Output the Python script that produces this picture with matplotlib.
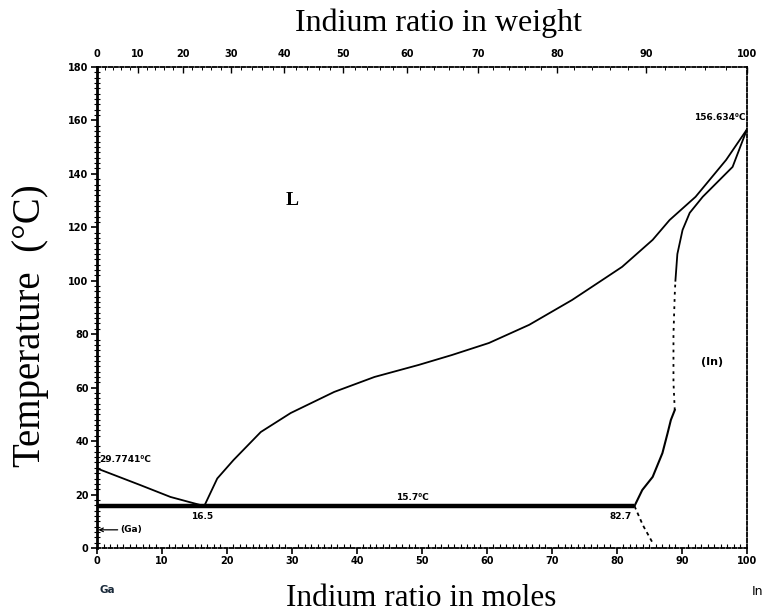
import numpy as np
import matplotlib
matplotlib.use("Agg")
import matplotlib.pyplot as plt
from matplotlib.ticker import MultipleLocator, FixedLocator

# Ga-In binary phase diagram (composition in mol % In, temperature in deg C)
M_GA, M_IN = 69.723, 114.818

ga_liq_x = [0, 6.6, 11.3, 14.8, 16.5]
ga_liq_t = [29.77, 23.6, 19.1, 16.8, 15.7]

liq_x = [16.5, 18.5, 21.0, 25.2, 29.8, 36.5, 42.7, 49.5, 54.6, 60.3, 66.5,
         73.1, 78.2, 80.8, 85.5, 88.1, 92.1, 96.8, 100]
liq_t = [15.7, 26.0, 32.9, 43.4, 50.5, 58.4, 64.0, 68.5, 72.2, 76.7, 83.5,
         92.8, 101.0, 105.2, 115.3, 122.7, 131.4, 145.2, 156.6]

sol_lo_x = [82.7, 83.9, 85.5, 87.0, 87.8, 88.3, 88.9]
sol_lo_t = [15.7, 21.7, 26.6, 35.5, 43.0, 47.9, 51.6]
sol_mid_x = [88.9, 88.7, 88.7, 88.9, 89.0]
sol_mid_t = [51.6, 62.0, 80.0, 95.0, 100.0]
sol_hi_x = [89.0, 89.3, 90.1, 91.2, 93.2, 97.8, 100]
sol_hi_t = [100.0, 110.0, 119.0, 125.4, 131.4, 142.6, 156.6]

solvus_x = [82.7, 84.0, 85.5]
solvus_t = [15.7, 8.5, 1.9]

eut_x = [0, 82.7]
eut_t = [15.7, 15.7]

t_ticks = [0, 20, 40, 60, 80, 100, 120, 140, 160, 180]
mol_ticks = [0, 10, 20, 30, 40, 50, 60, 70, 80, 90, 100]
wt_ticks = [0, 10, 20, 30, 40, 50, 60, 70, 80, 90, 100]


def mol_to_wt(x):
    x = np.clip(np.asarray(x, dtype=float), 0, 100)
    a = x * M_IN
    b = (100 - x) * M_GA
    return 100 * a / np.maximum(a + b, 1e-12)


def wt_to_mol(w):
    w = np.clip(np.asarray(w, dtype=float), 0, 100)
    a = w / M_IN
    b = (100 - w) / M_GA
    return 100 * a / np.maximum(a + b, 1e-12)


fig = plt.figure(figsize=(7.7, 6.14), dpi=100)
ax = fig.add_axes([0.126, 0.1075, 0.844, 0.7835])
ax.set_xlim(0, 100)
ax.set_ylim(0, 180)

tick_font = dict(family="DejaVu Sans", fontsize=7, fontweight="bold")
serif = "Liberation Serif"

# curves
ax.plot(ga_liq_x, ga_liq_t, color="black", lw=1.3)
ax.plot(liq_x, liq_t, color="black", lw=1.3)
ax.plot(sol_lo_x, sol_lo_t, color="black", lw=1.5)
ax.plot(sol_mid_x, sol_mid_t, color="black", lw=1.3, ls=(0, (1.5, 2.5)))
ax.plot(sol_hi_x, sol_hi_t, color="black", lw=1.3)
ax.plot(solvus_x, solvus_t, color="black", lw=1.3, ls=(0, (2, 2)))
ax.plot(eut_x, eut_t, color="black", lw=3.2, solid_capstyle="butt")

# annotations
ax.text(0.3, 33, "29.7741\u2070C", fontsize=6.5, fontweight="bold", ha="left", va="center")
ax.text(16.2, 11.6, "16.5", fontsize=6.5, fontweight="bold", ha="center", va="center")
ax.text(82.3, 11.6, "82.7", fontsize=6.5, fontweight="bold", ha="right", va="center")
ax.text(48.5, 18.8, "15.7\u2070C", fontsize=6.5, fontweight="bold", ha="center", va="center")
ax.text(99.8, 161, "156.634\u2070C", fontsize=6.5, fontweight="bold", ha="right", va="center")
ax.text(30.1, 130, "L", fontsize=14, family=serif, fontweight="bold", ha="center", va="center")
ax.text(94.7, 69.6, "(In)", fontsize=8, fontweight="bold", ha="center", va="center")
ax.annotate("(Ga)", xy=(0.2, 6.8), xytext=(3.6, 6.8), fontsize=6.5, fontweight="bold",
            ha="left", va="center",
            arrowprops=dict(arrowstyle="->", lw=0.9, color="black", shrinkA=0, shrinkB=0))

# spines
for side in ("top", "right", "bottom"):
    ax.spines[side].set_linestyle((0, (2, 1.2)))
    ax.spines[side].set_linewidth(1.3)
ax.spines["left"].set_linewidth(2.0)

# ticks
ax.yaxis.set_major_locator(FixedLocator(t_ticks))
ax.yaxis.set_minor_locator(MultipleLocator(2))
ax.xaxis.set_major_locator(FixedLocator(mol_ticks))
ax.xaxis.set_minor_locator(MultipleLocator(1))
ax.tick_params(axis="both", which="major", direction="out", length=4, width=1.2, pad=2)
ax.tick_params(axis="both", which="minor", direction="in", length=3, width=0.8)
ax.tick_params(axis="y", which="minor", direction="inout", length=4)
ax.set_yticklabels([str(t) for t in t_ticks], **tick_font)
ax.set_xticklabels([str(t) for t in mol_ticks], **tick_font)

sec = ax.secondary_xaxis("top", functions=(mol_to_wt, wt_to_mol))
sec.xaxis.set_major_locator(FixedLocator(wt_ticks))
sec.xaxis.set_minor_locator(MultipleLocator(2))
sec.tick_params(axis="x", which="major", direction="in", length=4, width=1.0, pad=6)
sec.tick_params(axis="x", which="minor", direction="in", length=2, width=0.7)
sec.set_xticklabels([str(t) for t in wt_ticks], **tick_font)
sec.spines["top"].set_visible(False)

# element labels under the composition axis
fig.text(0.140, 0.039, "Ga", fontsize=7.5, fontweight="bold", ha="center", va="center",
         color="#1a2a3a")
fig.text(0.984, 0.037, "In", fontsize=9, ha="center", va="center")

# axis titles
fig.text(0.569, 0.962, "Indium ratio in weight", family=serif, fontsize=23,
         ha="center", va="center")
fig.text(0.547, 0.026, "Indium ratio in moles", family=serif, fontsize=22.5,
         ha="center", va="center")
fig.text(0.040, 0.469, "Temperature  (\u00b0C)", family=serif, fontsize=28,
         rotation=90, ha="center", va="center")

fig.savefig("out.png", dpi=100)
